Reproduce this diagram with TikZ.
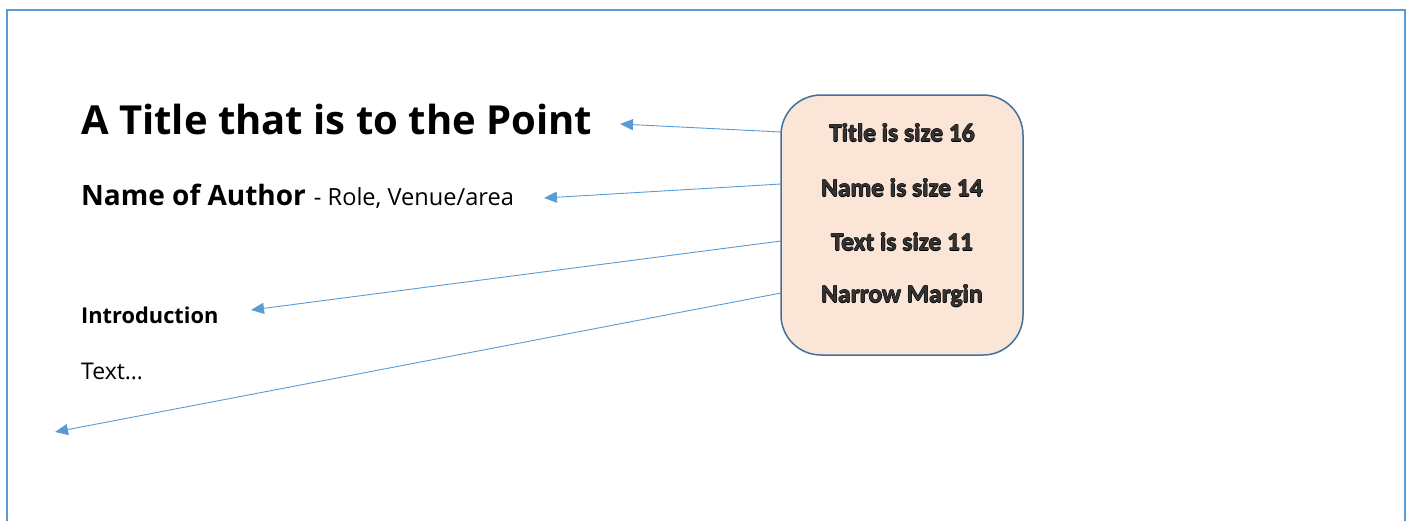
\documentclass[tikz,border=0pt]{standalone}
\usepackage{fontspec}
\setmainfont{Open Sans}
\newfontfamily\calib{Carlito}
\usetikzlibrary{arrows.meta}
\definecolor{pageblue}{HTML}{5B9BD5}
\definecolor{boxfill}{HTML}{FBE5D6}
\definecolor{boxline}{HTML}{41719C}
\newcommand\outlinedtext[1]{\leavevmode
  \rlap{\kern-0.5pt#1}\rlap{\kern0.5pt#1}%
  \rlap{\raisebox{0.5pt}{#1}}\rlap{\raisebox{-0.5pt}{#1}}%
  \textcolor{black!80}{#1}}
\tikzset{
  pointer/.style={draw=pageblue, line width=0.9pt, -{Triangle[length=13pt,width=11pt]}},
  doctext/.style={anchor=base west, inner sep=0pt, text=black},
  notebox/.style={draw=boxline, line width=1.5pt, fill=boxfill, rounded corners=40pt,
    minimum width=242pt, minimum height=260pt},
  notetext/.style={font=\calib\bfseries\fontsize{25.5}{28}\selectfont, text=black, inner sep=0pt}
}
\begin{document}
\begin{tikzpicture}[x=1pt,y=-1pt]
\useasboundingbox (0,0) rectangle (1411,520);
\fill[white] (0,0) rectangle (1411,520);
\draw[pageblue, line width=2pt] (6.5,540) -- (6.5,10) -- (1404.5,10) -- (1404.5,540);

\node[doctext, font=\bfseries\fontsize{40}{44}\selectfont] (title) at (81,134) {A Title that is to the Point};
\node[doctext, font=\fontsize{28}{32}\selectfont] (author) at (81,205) {\textbf{Name of Author}\kern8pt{\fontsize{23.6}{26}\selectfont - Role, Venue/area}};
\node[doctext, font=\bfseries\fontsize{21.8}{26}\selectfont] (intro) at (81,323) {Introduction};
\node[doctext, font=\fontsize{23}{26}\selectfont] (body) at (81,379) {Text\ldots};

\node[notebox] (box) at (902,225) {};
\node[notetext] (n1) at (902,133) {\outlinedtext{Title is size 16}};
\node[notetext] (n2) at (902,188) {\outlinedtext{Name is size 14}};
\node[notetext] (n3) at (902,242) {\outlinedtext{Text is size 11}};
\node[notetext] (n4) at (902,296) {\outlinedtext{Narrow Margin}};

\coordinate (s1) at (781,132);
\coordinate (s2) at (781,184);
\coordinate (s3) at (781,241);
\coordinate (s4) at (781,293);
\coordinate (e1) at (620,124);
\coordinate (e2) at (544,198);
\coordinate (e3) at (251,310);
\coordinate (e4) at (55,432);
\draw[pointer] (s1) -- (e1);
\draw[pointer] (s2) -- (e2);
\draw[pointer] (s3) -- (e3);
\draw[pointer] (s4) -- (e4);
\end{tikzpicture}
\end{document}
